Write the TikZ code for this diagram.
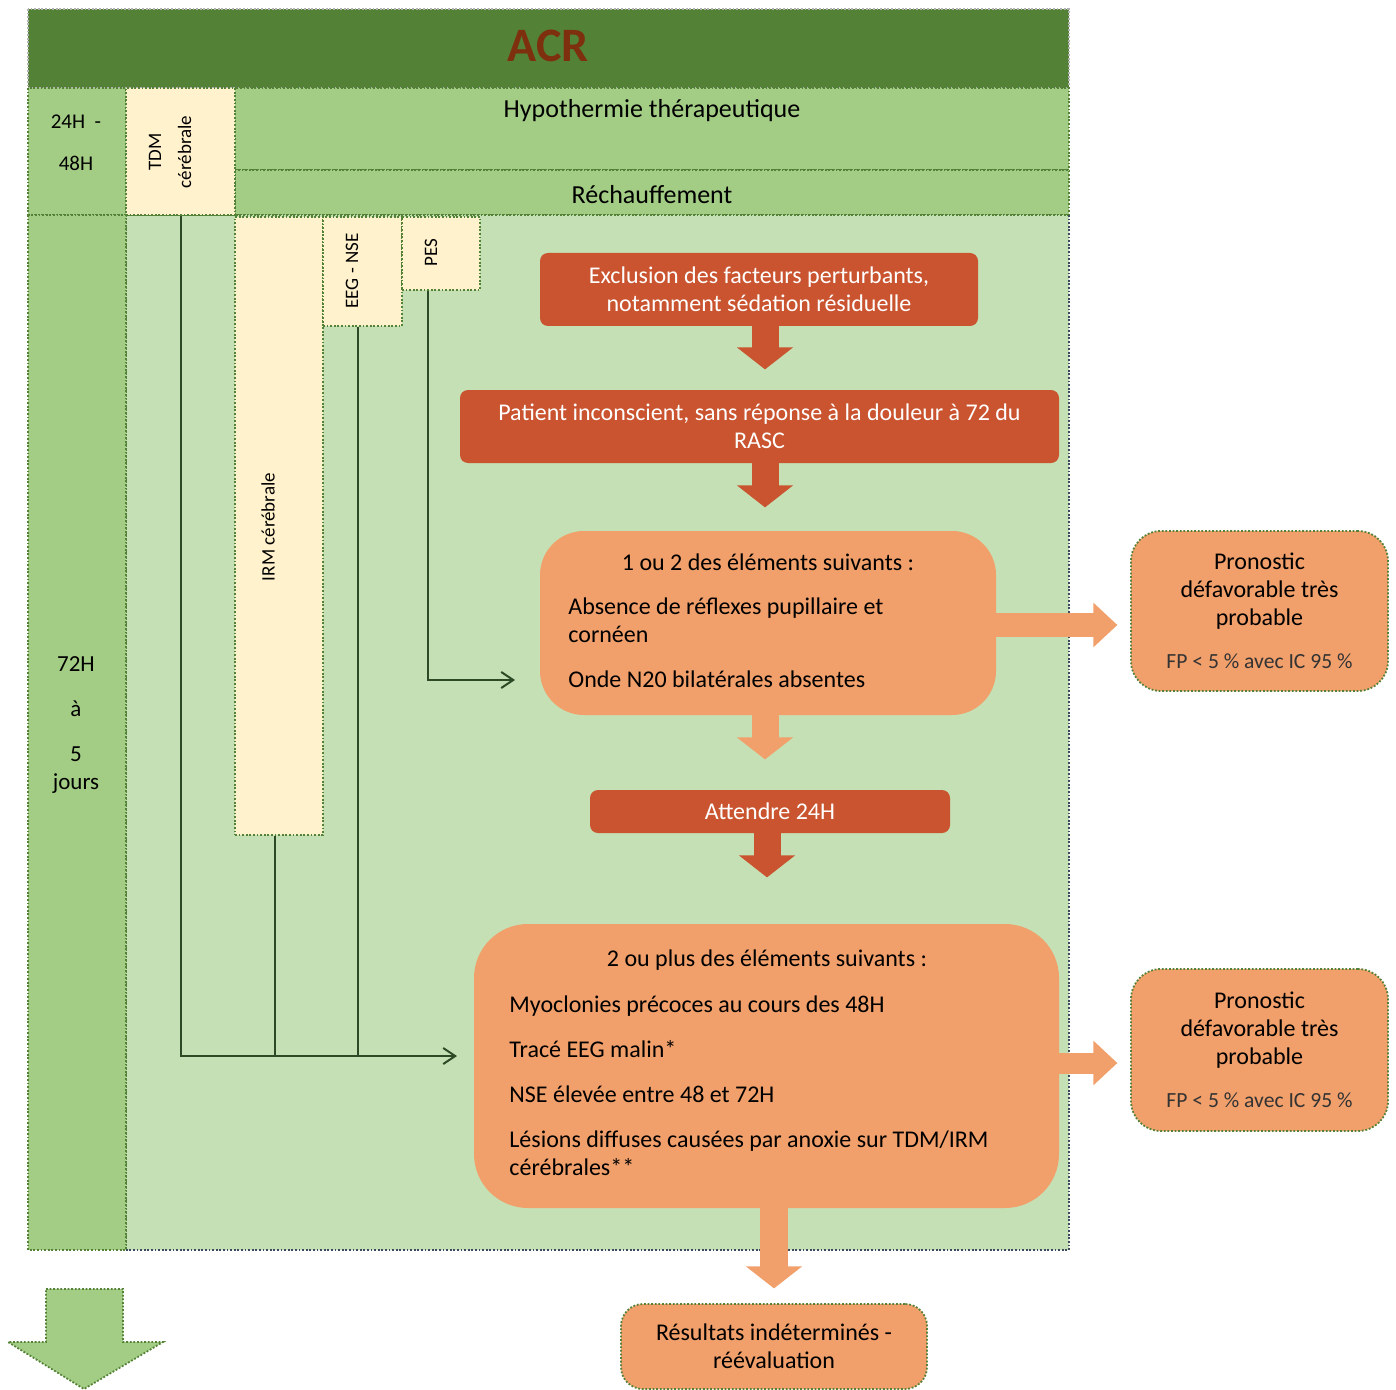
\documentclass[tikz,border=0pt]{standalone}
\usepackage{fontspec}
\setmainfont{Carlito}
\usetikzlibrary{arrows.meta, calc}

\definecolor{acrgreen}{HTML}{538135}
\definecolor{midgreen}{HTML}{A3CD85}
\definecolor{lightgreen}{HTML}{C5E0B4}
\definecolor{cream}{HTML}{FFF2CC}
\definecolor{brick}{HTML}{C9542F}
\definecolor{peach}{HTML}{F1A06B}
\definecolor{acrtext}{HTML}{7E300E}
\definecolor{linkgreen}{HTML}{2D4A27}
\definecolor{slate}{HTML}{3B4A5C}

\tikzset{
  dotline/.style={line width=0.9pt, dash pattern=on 0.9pt off 0.9pt},
  cell/.style={fill=midgreen, draw=acrgreen, dotline},
  creambox/.style={rectangle, fill=cream, draw=acrgreen, dotline, inner sep=0pt},
  vtxt/.style={rotate=90, align=center, inner sep=0pt, font=\fontsize{9.5}{15}\selectfont},
  txt/.style={inner sep=0pt, font=\fontsize{12}{14}\selectfont},
  headtxt/.style={inner sep=0pt, font=\fontsize{13}{15}\selectfont},
  redbox/.style={rectangle, rounded corners=4pt, fill=brick, text=white, align=center, inner sep=0pt, font=\fontsize{12}{14}\selectfont},
  orbox/.style={rectangle, fill=peach, inner sep=0pt},
  progbox/.style={rectangle, rounded corners=15pt, fill=peach, draw=acrgreen, dotline, align=center, inner sep=0pt, font=\fontsize{12}{14}\selectfont},
  link/.style={draw=linkgreen, line width=1pt},
  inarrow/.style={-{Straight Barb[length=6pt,width=8pt]}},
  blkdown/.style={line width=13.5pt, line cap=butt, -{Triangle[length=11pt,width=27.5pt]}},
  blkright/.style={line width=12pt, line cap=butt, -{Triangle[length=12pt,width=21.5pt]}},
}

\begin{document}
\begin{tikzpicture}[x=0.5pt, y=-0.5pt]
  \useasboundingbox (0,0) rectangle (1396,1390);

  % table
  \fill[acrgreen] (28,9) rectangle (1069,88);
  \draw[gray!60, dotline] (28,9) rectangle (1069,88);
  \draw[cell] (28,88) rectangle (126,215);
  \draw[cell] (235,88) rectangle (1069,170);
  \draw[cell] (235,170) rectangle (1069,215);
  \fill[lightgreen] (126,215) rectangle (1069,1250);
  \draw[acrgreen, dotline] (126,1250) -- (126,215) -- (1069,215);
  \draw[slate, dotline] (1069,215) -- (1069,1250) -- (126,1250);
  \draw[cell] (28,215) rectangle (126,1250);

  \node[font=\fontsize{24}{28}\selectfont\bfseries, text=acrtext] (acr) at (548,46) {ACR};
  \node[headtxt] (hypo) at (652,111) {Hypothermie thérapeutique};
  \node[headtxt] (rech) at (652,195) {Réchauffement};
  \node[inner sep=0pt, align=center, font=\fontsize{10.5}{21}\selectfont] (early) at (76,143) {24H\ \ -\\48H};
  \node[inner sep=0pt, align=center, font=\fontsize{11.5}{14}\selectfont] (late) at (76,725) {72H\\[8.5pt]à\\[8.5pt]5\\jours};

  % examens
  \node[creambox, minimum width=54.5pt, minimum height=63.5pt] (tdm) at (180.5,151.5) {};
  \node[creambox, minimum width=44pt, minimum height=309pt] (irm) at (279,526) {};
  \node[creambox, minimum width=39.5pt, minimum height=54.5pt] (eeg) at (362.5,271.5) {};
  \node[creambox, minimum width=39pt, minimum height=36.5pt] (pes) at (441,253.5) {};
  \node[vtxt] (tdmlbl) at (170,152) {TDM\\cérébrale};
  \node[vtxt] (irmlbl) at (268,527) {IRM cérébrale};
  \node[vtxt] (eeglbl) at (352,271) {EEG - NSE};
  \node[vtxt] (peslbl) at (431,253) {PES};

  % decision
  \node[redbox, minimum width=219pt, minimum height=36.5pt] (excl) at (759,289.5)
    {Exclusion des facteurs perturbants,\\notamment sédation résiduelle};
  \node[redbox, minimum width=299.5pt, minimum height=36.5pt] (pat) at (759.5,426.5)
    {Patient inconscient, sans réponse à la douleur à 72 du\\RASC};
  \node[orbox, rounded corners=22pt, minimum width=228pt, minimum height=92pt] (crit1) at (768,623) {};
  \node[txt] (crit1h) at (768,562) {1 ou 2 des éléments suivants :};
  \node[txt, anchor=west, align=left] (crit1l) at (568,643)
    {Absence de réflexes pupillaire et\\cornéen\\[8.5pt]Onde N20 bilatérales absentes};
  \node[redbox, minimum width=180pt, minimum height=21.5pt] (wait) at (770,811.5) {Attendre 24H};
  \node[orbox, rounded corners=27pt, minimum width=292.5pt, minimum height=142pt] (crit2) at (766.5,1066) {};
  \node[txt] (crit2h) at (767,960) {2 ou plus des éléments suivants :};
  \node[txt, anchor=west, align=left] (crit2l) at (509,1086)
    {Myoclonies précoces au cours des 48H\\[8.5pt]Tracé EEG malin*\\[8.5pt]NSE élevée entre 48 et 72H\\[8.5pt]Lésions diffuses causées par anoxie sur TDM/IRM\\cérébrales**};

  \node[progbox, minimum width=128.5pt, minimum height=80pt] (prog1) at (1259.5,611)
    {Pronostic\\défavorable très\\probable\\[7.5pt]{\fontsize{10.8}{12}\selectfont\color{black!80} FP < 5 \% avec IC 95 \%}};
  \node[progbox, minimum width=128.5pt, minimum height=81pt] (prog2) at (1259.5,1050)
    {Pronostic\\défavorable très\\probable\\[7.5pt]{\fontsize{10.8}{12}\selectfont\color{black!80} FP < 5 \% avec IC 95 \%}};
  \node[progbox, rounded corners=11pt, minimum width=153pt, minimum height=42.5pt] (reeval) at (774,1346.5)
    {Résultats indéterminés -\\réévaluation};

  % examens vers criteres
  \coordinate (in3) at (515,680);
  \coordinate (in4) at (457,1056);
  \draw[link, inarrow] ([xshift=-6.5pt]pes.south) |- (in3);
  \draw[link, inarrow] (tdm.south) |- (in4);
  \draw[link] ([xshift=-2pt]irm.south) -- ([xshift=-2pt]irm.south |- in4);
  \draw[link] ([xshift=-2.25pt]eeg.south) -- ([xshift=-2.25pt]eeg.south |- in4);

  % fleches pleines
  \draw[blkdown, brick] ([xshift=3pt]excl.south) -- ++(0,43);
  \draw[blkdown, brick] ([xshift=2.75pt]pat.south) -- ++(0,44);
  \draw[blkdown, peach] ([xshift=-1.5pt]crit1.south) -- ++(0,44);
  \draw[blkdown, brick] ([xshift=-1.5pt]wait.south) -- ++(0,44);
  \draw[blkdown, peach, line width=14pt] ([xshift=3.75pt]crit2.south) -- ++(0,80);
  \draw[blkright, peach] ([yshift=-1pt]crit1.east) -- ++(121,0);
  \draw[blkright, peach, line width=10.5pt] ([yshift=1.5pt]crit2.east) -- ++(58,0);

  \draw[fill=midgreen, draw=acrgreen, dotline] (46,1289) -- (123,1289) -- (123,1342) -- (163,1342)
    -- (84,1389) -- (8,1342) -- (46,1342) -- cycle;
\end{tikzpicture}
\end{document}
